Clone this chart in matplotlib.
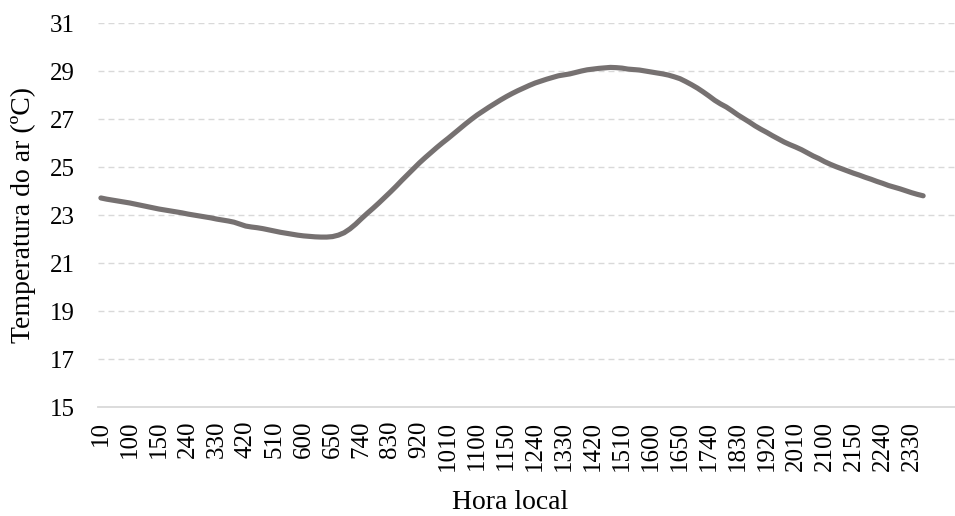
import matplotlib
matplotlib.use("Agg")
import matplotlib.pyplot as plt

plt.rcParams['font.family'] = ['Liberation Serif', 'DejaVu Serif']
plt.rcParams['lines.scale_dashes'] = False

# Categories: local time every 10 minutes (HMM without leading zeros)
hours = list(range(0, 24))
minutes = [0, 10, 20, 30, 40, 50]
categories = [str(h * 100 + m) for h in hours for m in minutes][1:]  # 10 ... 2350

temperature = [
    23.71, 23.66, 23.62, 23.58, 23.54,
    23.50, 23.45, 23.40, 23.35, 23.30,
    23.25, 23.21, 23.17, 23.13, 23.09,
    23.04, 23.00, 22.96, 22.92, 22.88,
    22.83, 22.79, 22.75, 22.70, 22.62,
    22.54, 22.50, 22.47, 22.43, 22.38,
    22.33, 22.28, 22.24, 22.20, 22.16,
    22.13, 22.11, 22.09, 22.08, 22.08,
    22.10, 22.16, 22.26, 22.42, 22.62,
    22.85, 23.07, 23.28, 23.50, 23.73,
    23.96, 24.20, 24.45, 24.69, 24.93,
    25.17, 25.39, 25.60, 25.81, 26.01,
    26.20, 26.40, 26.60, 26.80, 26.99,
    27.17, 27.33, 27.49, 27.64, 27.79,
    27.93, 28.06, 28.18, 28.29, 28.40,
    28.50, 28.58, 28.66, 28.73, 28.80,
    28.84, 28.88, 28.94, 29.00, 29.05,
    29.08, 29.11, 29.13, 29.15, 29.14,
    29.12, 29.08, 29.06, 29.04, 29.00,
    28.96, 28.92, 28.88, 28.83, 28.76,
    28.68, 28.56, 28.43, 28.29, 28.13,
    27.96, 27.78, 27.63, 27.50, 27.34,
    27.17, 27.02, 26.87, 26.71, 26.57,
    26.44, 26.30, 26.17, 26.04, 25.93,
    25.83, 25.72, 25.59, 25.46, 25.35,
    25.22, 25.11, 25.01, 24.92, 24.83,
    24.74, 24.66, 24.57, 24.49, 24.40,
    24.32, 24.23, 24.16, 24.09, 24.01,
    23.93, 23.86, 23.80,
]

y_ticks = [15, 17, 19, 21, 23, 25, 27, 29, 31]
label_step = 5
FS_TICK = 18
FS_TITLE = 20

W, H = 955, 516
fig = plt.figure(figsize=(W / 100, H / 100), dpi=100)
ax = fig.add_axes([98 / W, (H - 407) / H, (955 - 98) / W, (407 - 23) / H])

x = list(range(len(categories)))
ax.plot(x, temperature, color='#767171', linewidth=3.7,
        solid_capstyle='round', solid_joinstyle='round', zorder=3)

ax.set_ylim(15, 31)
ax.set_xlim(-0.5, 147.5)
ax.set_yticks(y_ticks)
ax.set_yticklabels([str(v) for v in y_ticks], fontsize=FS_TICK)
tick_pos = x[::label_step]
ax.set_xticks(tick_pos)
ax.set_xticklabels(categories[::label_step], rotation=90, fontsize=FS_TICK,
                   va='top', ha='center')
ax.tick_params(axis='both', length=0)
ax.tick_params(axis='y', pad=17)
ax.tick_params(axis='x', pad=10)

for v in y_ticks[1:]:
    ax.axhline(v, color='#D9D9D9', linewidth=1.0,
               linestyle=(0, (4.3, 2.9)), zorder=1)

for s in ['top', 'right', 'left']:
    ax.spines[s].set_visible(False)
ax.spines['bottom'].set_color('#D9D9D9')
ax.spines['bottom'].set_linewidth(1.3)

fig.text(23 / W, 1 - 215 / H, 'Temperatura do ar (ºC)', rotation=90,
         fontsize=FS_TITLE, ha='center', va='center')
fig.text(510 / W, 1 - 509 / H, 'Hora local', fontsize=FS_TITLE,
         ha='center', va='baseline')

fig.savefig('out.png', dpi=100, facecolor='white')
